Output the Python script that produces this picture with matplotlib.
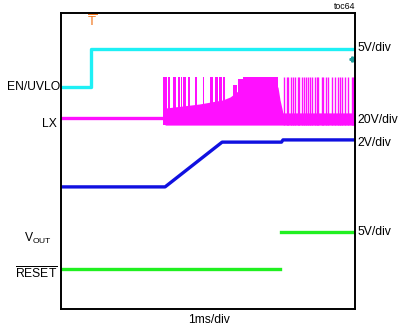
import numpy as np
import matplotlib
matplotlib.use("Agg")
import matplotlib.pyplot as plt

plt.rcParams['font.family'] = ['Liberation Sans', 'DejaVu Sans']
plt.rcParams['mathtext.fontset'] = 'custom'
plt.rcParams['mathtext.rm'] = 'Liberation Sans'

# time axis in ms (1 ms/div, 10 div), vertical in screen divisions (0..8)
en_t = [0, 1.02, 1.02, 10]
en_v = [6.0, 6.0, 7.03, 7.03]

lx_base_t = [0, 3.54]
lx_base_v = [5.16, 5.16]

# LX switching band envelope
band_t = [3.54, 4.7, 5.5, 5.75, 6.2, 7.38, 7.45, 7.55, 10]
band_top = [5.43, 5.54, 5.65, 5.73, 6.0, 6.0, 5.65, 5.30, 5.30]
band_bot = [4.97, 4.97, 4.97, 4.97, 4.97, 4.97, 4.97, 4.97, 4.97]

# LX spikes: (start ms, end ms, top)
spike_start = [3.47, 3.64, 3.81, 3.98, 4.08, 4.15, 4.32, 4.56, 4.83, 5.07,
               5.24, 5.37, 5.51, 5.85, 6.02, 6.19]
spike_end = [3.61, 3.71, 3.91, 4.05, 4.12, 4.25, 4.39, 4.63, 4.86, 5.17,
             5.34, 5.48, 5.58, 5.99, 6.19, 7.38]
spike_top = [6.27, 6.27, 6.27, 6.27, 6.27, 6.27, 6.27, 6.27, 6.27, 6.27,
             6.27, 6.27, 6.27, 6.05, 6.22, 6.27]
# narrow spikes after soft-start
pulse_t = [7.59, 7.69, 7.72, 7.82, 7.89, 7.96, 8.06, 8.10, 8.20, 8.27,
           8.33, 8.40, 8.47, 8.54, 8.64, 8.71, 8.74, 8.88, 8.91, 9.01,
           9.08, 9.22, 9.32, 9.42, 9.49, 9.56, 9.66, 9.76, 9.90, 9.93]

fb_t = [0, 3.54, 5.48, 7.5, 7.55, 10]
fb_v = [3.30, 3.30, 4.51, 4.51, 4.57, 4.57]

reset_t = [0, 7.45]
reset_v = [1.08, 1.08]
vout_t = [7.48, 10]
vout_v = [2.08, 2.08]

cyan = '#1EF0F5'
magenta = '#FF10FF'
blue = '#1010E0'
green = '#20F020'

fig = plt.figure(figsize=(4.0, 3.29), dpi=100)
ax = fig.add_axes([0.1525, 0.0608, 0.735, 0.8997])
ax.set_xlim(0, 10)
ax.set_ylim(0, 8)
ax.set_xticks([])
ax.set_yticks([])
for s in ax.spines.values():
    s.set_linewidth(1.4)

# traces
ax.plot(en_t, en_v, color=cyan, lw=2.4)
ax.plot(lx_base_t, lx_base_v, color=magenta, lw=2.4)
ax.fill_between(band_t, band_bot, band_top, color=magenta, lw=0)
for a, b, top in zip(spike_start, spike_end, spike_top):
    ax.fill_between([a, b], [4.97, 4.97], [top, top], color=magenta, lw=0)
ax.vlines(pulse_t, 4.97, 6.27, color=magenta, lw=1.0)
ax.plot(fb_t, fb_v, color=blue, lw=2.4)
ax.plot(reset_t, reset_v, color=green, lw=2.4)
ax.plot(vout_t, vout_v, color=green, lw=2.4)

# trigger marker and small marker on the right
ax.text(1.05, 7.76, r'$\overline{\mathrm{T}}$', color='#F07820', fontsize=9.5,
        ha='center', va='center', clip_on=False)
ax.plot([9.9], [6.76], marker='P', ms=3.5, color='#20A0A0', clip_on=False)

# left labels
lbl = dict(fontsize=8.7, ha='right', va='center', clip_on=False)
ax.text(-0.03, 6.0, 'EN/UVLO', **lbl)
ax.text(-0.13, 5.0, 'LX', **lbl)
ax.text(-0.30, 1.92, r'V$_{\mathrm{OUT}}$', **lbl)
ax.text(-0.13, 0.97, r'$\overline{\mathrm{RESET}}$', **lbl)

# right labels
rl = dict(fontsize=8.7, ha='left', va='center', clip_on=False)
ax.text(10.07, 7.05, '5V/div', **rl)
ax.text(10.07, 5.1, '20V/div', **rl)
ax.text(10.07, 4.49, '2V/div', **rl)
ax.text(10.07, 2.08, '5V/div', **rl)

ax.text(10.0, 8.05, 'toc64', fontsize=6.3, ha='right', va='bottom', clip_on=False)
ax.text(5.05, -0.3, '1ms/div', fontsize=8.7, ha='center', va='center', clip_on=False)

fig.savefig('out.png', dpi=100)
